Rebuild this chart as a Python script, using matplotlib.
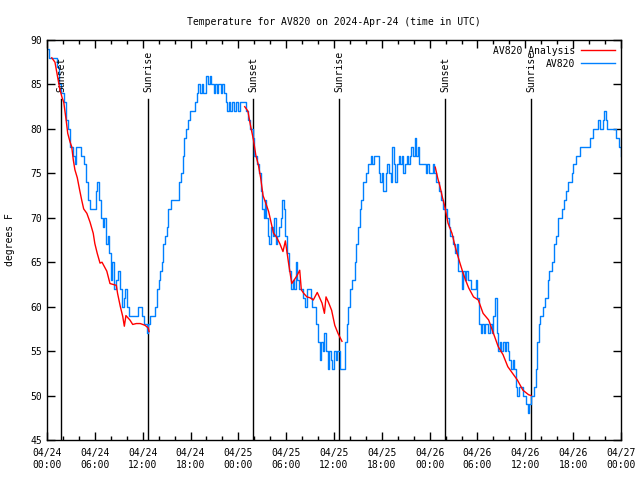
import matplotlib
matplotlib.use("Agg")
import matplotlib.pyplot as plt
from matplotlib.ticker import MultipleLocator

plt.rcParams['font.family'] = ['DejaVu Sans Mono']
FS = 7

title = "Temperature for AV820 on 2024-Apr-24 (time in UTC)"

# hours since 2024-04-24 00:00 UTC
obs_h = [0.0, 0.3, 0.9, 1.2, 1.5, 1.8, 2.1, 2.4, 2.6, 2.9, 3.2, 3.5, 3.7, 4.0, 4.3, 4.6, 4.9, 5.2, 5.4, 5.9,
         6.1, 6.3, 6.5, 6.8, 7.0, 7.2, 7.4, 7.6, 7.8, 8.0, 8.2, 8.4, 8.6, 8.9, 9.2, 9.4, 9.6, 9.8, 10.0, 10.3,
         10.6, 11.0, 11.4, 11.7, 11.9, 12.2, 12.5, 12.7, 12.9, 13.2, 13.5, 13.8, 14.0, 14.2, 14.4, 14.6, 14.8, 15.0, 15.2, 15.5,
         16.0, 16.3, 16.6, 16.8, 17.0, 17.2, 17.4, 17.7, 17.9, 18.4, 18.6, 18.8, 19.0, 19.2, 19.4, 19.6, 19.9, 20.0, 20.2, 20.4,
         20.6, 20.9, 21.1, 21.3, 21.5, 21.8, 22.0, 22.2, 22.4, 22.6, 22.8, 23.0, 23.2, 23.5, 23.7, 24.0, 24.2, 24.8, 25.0, 25.2,
         25.5, 25.8, 26.0, 26.3, 26.6, 26.9, 27.0, 27.2, 27.3, 27.5, 27.7, 27.9, 28.1, 28.3, 28.5, 28.7, 28.9, 29.1, 29.3, 29.5,
         29.7, 29.9, 30.1, 30.3, 30.6, 30.8, 31.0, 31.2, 31.4, 31.6, 31.9, 32.1, 32.4, 32.6, 32.9, 33.1, 33.3, 33.6, 33.8, 34.0,
         34.2, 34.4, 34.6, 34.8, 35.0, 35.2, 35.4, 35.6, 35.8, 36.0, 36.2, 36.4, 36.7, 37.2, 37.4, 37.6, 37.8, 38.0, 38.3, 38.6,
         38.8, 39.0, 39.2, 39.4, 39.7, 40.0, 40.3, 40.6, 40.8, 41.0, 41.4, 41.6, 41.8, 42.0, 42.2, 42.5, 42.7, 42.9, 43.1, 43.3,
         43.5, 43.7, 43.9, 44.1, 44.3, 44.5, 44.7, 44.9, 45.1, 45.3, 45.5, 45.7, 45.9, 46.1, 46.3, 46.5, 46.7, 46.9, 47.3, 47.5,
         47.7, 47.9, 48.2, 48.4, 48.6, 48.8, 49.0, 49.2, 49.4, 49.7, 50.0, 50.2, 50.4, 50.6, 50.9, 51.2, 51.4, 51.6, 51.8, 52.0,
         52.2, 52.4, 52.6, 52.8, 53.2, 53.5, 53.8, 54.0, 54.2, 54.4, 54.6, 54.8, 55.0, 55.3, 55.6, 55.8, 56.0, 56.2, 56.4, 56.6,
         56.8, 57.0, 57.2, 57.4, 57.6, 57.8, 58.0, 58.2, 58.4, 58.6, 58.8, 59.0, 59.2, 59.5, 59.7, 59.9, 60.1, 60.3, 60.5, 60.7,
         60.9, 61.1, 61.3, 61.5, 61.7, 61.9, 62.2, 62.5, 62.8, 63.0, 63.3, 63.6, 63.9, 64.1, 64.4, 64.6, 64.9, 65.1, 65.4, 65.6,
         65.8, 66.0, 66.3, 66.6, 66.9, 67.2, 67.5, 67.8, 68.1, 68.5, 68.8, 69.1, 69.4, 69.7, 69.9, 70.1, 70.3, 70.8, 71.2, 71.4,
         71.7, 72.0]
obs_t = [89, 88, 88, 87, 85, 84, 83, 81, 80, 78, 77, 76, 78, 78, 77, 76, 74, 72, 71, 71,
         73, 74, 72, 70, 69, 70, 67, 68, 66, 63, 65, 62, 63, 64, 62, 60, 61, 62, 60, 59,
         59, 59, 60, 60, 59, 58, 57, 58, 59, 59, 60, 62, 63, 64, 65, 67, 68, 69, 71, 72,
         72, 72, 74, 75, 77, 79, 80, 81, 82, 82, 83, 84, 85, 84, 85, 84, 85, 86, 85, 86,
         85, 84, 85, 84, 85, 84, 85, 84, 83, 82, 83, 82, 83, 82, 83, 82, 83, 83, 82, 81,
         80, 79, 77, 76, 75, 73, 71, 70, 72, 70, 68, 67, 69, 68, 70, 67, 68, 69, 70, 72,
         71, 68, 66, 64, 62, 63, 62, 65, 63, 62, 62, 61, 60, 62, 62, 61, 60, 60, 58, 56,
         54, 56, 55, 57, 55, 53, 55, 54, 53, 55, 54, 55, 53, 53, 56, 58, 60, 62, 63, 65,
         67, 69, 71, 72, 74, 75, 76, 77, 76, 77, 77, 75, 74, 75, 73, 75, 76, 75, 74, 78,
         76, 74, 76, 77, 76, 77, 75, 76, 77, 76, 77, 78, 77, 79, 77, 78, 76, 76, 76, 75,
         76, 75, 75, 76, 75, 74, 74, 73, 72, 71, 71, 70, 69, 68, 67, 66, 67, 64, 64, 62,
         64, 63, 64, 63, 62, 62, 63, 61, 58, 57, 58, 57, 58, 57, 58, 57, 59, 61, 57, 55,
         56, 55, 56, 55, 56, 55, 54, 53, 54, 53, 51, 50, 51, 51, 50, 50, 49, 48, 49, 50,
         50, 51, 53, 56, 58, 59, 60, 61, 63, 64, 65, 67, 68, 70, 70, 71, 72, 73, 74, 74,
         75, 76, 77, 77, 78, 78, 78, 78, 79, 80, 80, 81, 80, 81, 82, 81, 80, 80, 80, 79,
         78, 77]

ana1_h = [0.6, 1.0, 1.3, 1.6, 1.9, 2.1, 2.4, 2.6, 2.9, 3.1, 3.3, 3.5, 3.8, 4.1, 4.35, 4.6, 5.0, 5.4, 5.8, 6.0,
          6.3, 6.65, 6.9, 7.2, 7.5, 7.9, 8.3, 8.7, 8.85, 9.2, 9.5, 9.7, 9.9, 10.4, 10.75, 11.2, 11.7, 12.3, 12.7, 12.8]
ana1_t = [88, 87.5, 86, 84.5, 83.5, 83, 81, 79.5, 78.5, 78, 76.5, 75.4, 74.5, 73.1, 72, 71, 70.5, 69.5, 68.25, 67.1,
          66, 64.9, 65, 64.5, 64, 62.6, 62.5, 62.4, 61.5, 60, 58.9, 57.8, 59, 58.5, 58, 58.1, 58.1, 57.9, 57.6, 57.2]
ana2_h = [24.8, 25.2, 25.5, 25.9, 26.2, 26.5, 26.8, 27.1, 27.5, 27.8, 28.1, 28.4, 28.8, 29.2, 29.6, 29.9, 30.3, 30.7, 31.0, 31.3,
          31.7, 31.9, 32.2, 32.6, 33.0, 33.4, 33.9, 34.2, 34.5, 34.8, 35.0, 35.3, 35.7, 36.1, 36.5, 37.0]
ana2_t = [82.5, 82, 80.5, 78.75, 77, 76, 74.5, 72.5, 71.5, 70.7, 69.5, 68.3, 67.8, 67.1, 66.2, 67.4, 64.9, 62.6, 63, 63.4,
          64.1, 61.9, 61.5, 61.1, 61, 60.75, 61.6, 61, 60.4, 59.25, 61.1, 60.5, 59.6, 57.9, 57, 56.1]
ana3_h = [48.7, 49.0, 49.3, 49.6, 49.9, 50.3, 50.8, 51.2, 51.5, 51.8, 52.2, 52.5, 52.9, 53.5, 54.1, 54.7, 55.4, 56.0, 56.6, 57.2,
          57.8, 58.4, 59.0, 59.7, 60.4, 60.7]
ana3_t = [75.7, 74.5, 73.5, 72.3, 71.25, 69.4, 68.25, 66.75, 65.8, 64.9, 63.75, 63, 62.1, 61.1, 60.75, 59.25, 58.5, 57, 55.5, 54.6,
          53.25, 52.5, 51.75, 50.6, 50.1, 50]

sun_h = [1.8, 12.71, 25.89, 36.68, 49.98, 60.77]
sun_lbl = ["Sunset", "Sunrise", "Sunset", "Sunrise", "Sunset", "Sunrise"]

xtick_h = [0, 6, 12, 18, 24, 30, 36, 42, 48, 54, 60, 66, 72]
xtick_lbl = ["04/24\n00:00", "04/24\n06:00", "04/24\n12:00", "04/24\n18:00", "04/25\n00:00", "04/25\n06:00",
             "04/25\n12:00", "04/25\n18:00", "04/26\n00:00", "04/26\n06:00", "04/26\n12:00", "04/26\n18:00",
             "04/27\n00:00"]

fig = plt.figure(figsize=(6.4, 4.8), dpi=100)
ax = fig.add_axes([47/640, 1-440/480, (621-47)/640, 400/480])

for h, lbl in zip(sun_h, sun_lbl):
    ax.plot([h, h], [45, 83.4], color='black', lw=1.0, zorder=1)
    ax.text(h, 84.1, lbl, rotation=90, ha='center', va='bottom', fontsize=FS)

ax.plot(obs_h, obs_t, color='#0080ff', lw=1.0, drawstyle='steps-post', label='AV820', zorder=2)
first = True
for hh, tt in [(ana1_h, ana1_t), (ana2_h, ana2_t), (ana3_h, ana3_t)]:
    ax.plot(hh, tt, color='#ff0000', lw=1.0, zorder=3, label='AV820 Analysis' if first else None)
    first = False

ax.set_xlim(0, 72)
ax.set_ylim(45, 90)
ax.set_xticks(xtick_h)
ax.set_xticklabels(xtick_lbl, fontsize=FS)
ax.xaxis.set_minor_locator(MultipleLocator(2))
ax.yaxis.set_major_locator(MultipleLocator(5))
ax.tick_params(axis='both', which='both', direction='in', top=True, right=True, labelsize=FS)
ax.tick_params(which='major', length=6, width=1)
ax.tick_params(which='minor', length=3, width=1)
ax.tick_params(axis='x', pad=6)
for s in ax.spines.values():
    s.set_linewidth(1.0)

ax.set_ylabel("degrees F", fontsize=FS, labelpad=11)
ax.set_title(title, fontsize=FS, pad=11)

handles, labels = ax.get_legend_handles_labels()
order = [labels.index('AV820 Analysis'), labels.index('AV820')]
ax.legend([handles[i] for i in order], [labels[i] for i in order], loc='upper right', frameon=False,
          markerfirst=False, fontsize=FS, handlelength=3.5, borderaxespad=0.2, labelspacing=0.3,
          handletextpad=0.6)

fig.savefig("out.png", dpi=100)
